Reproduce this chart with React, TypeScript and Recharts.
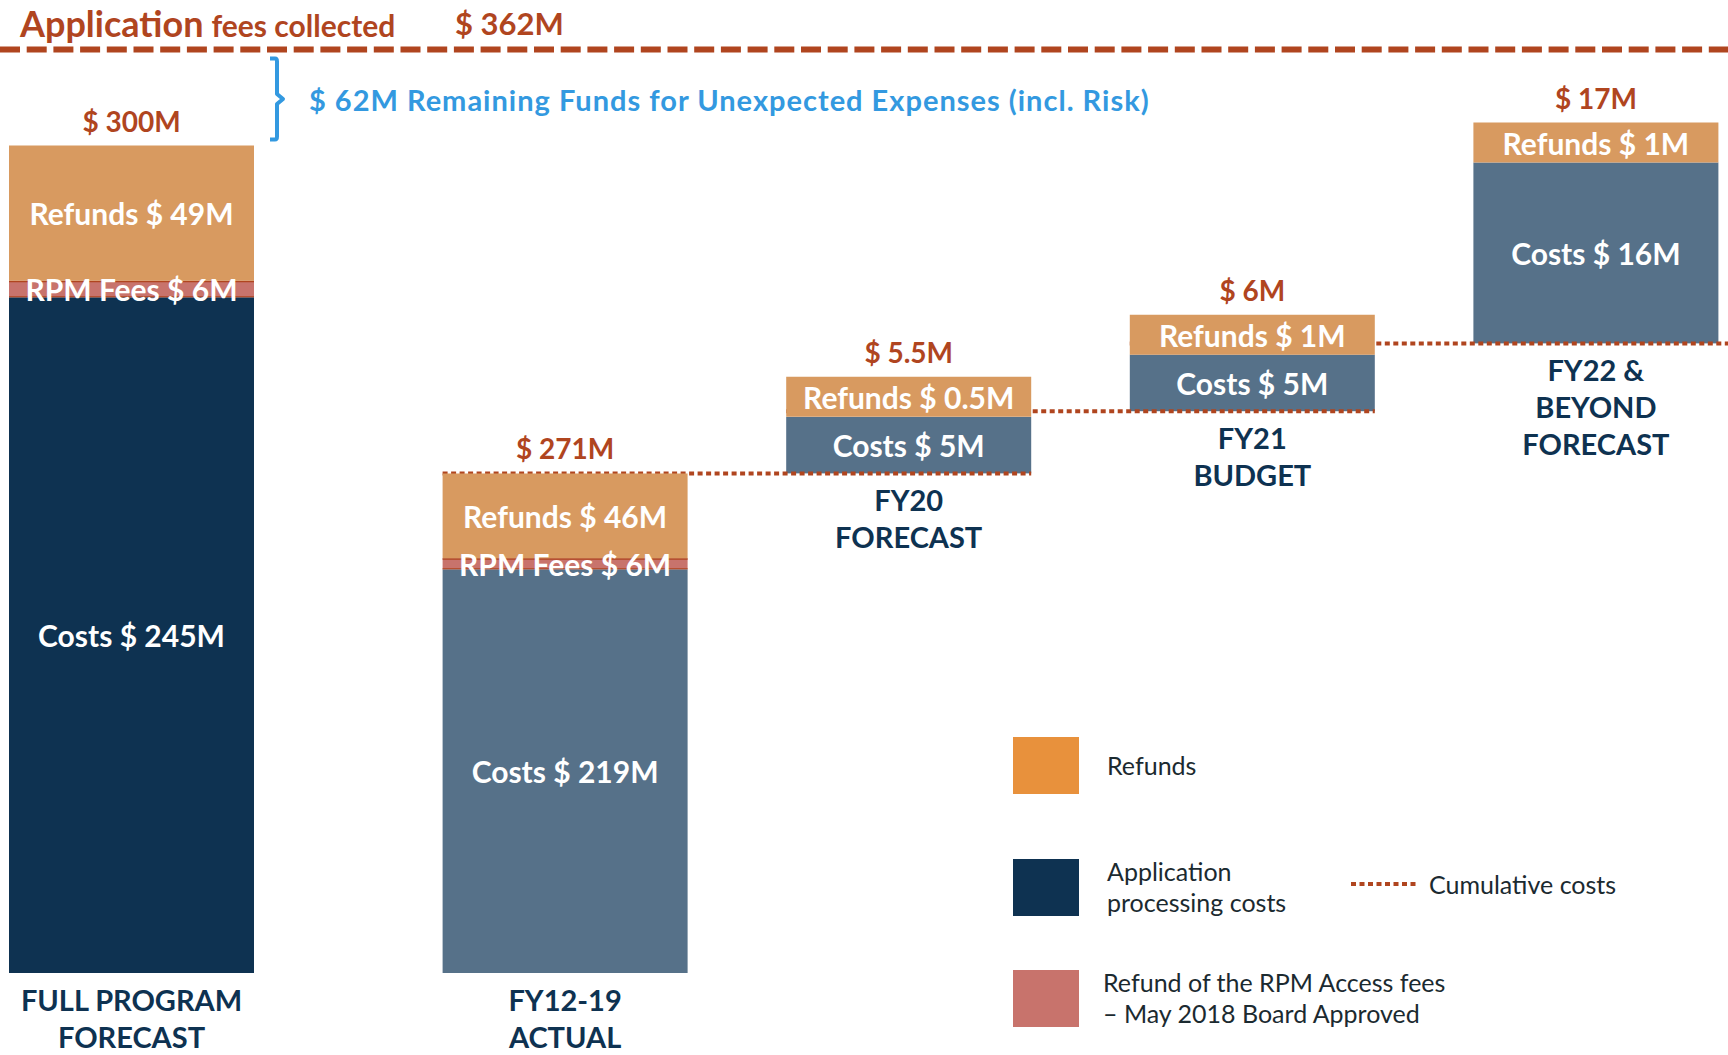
import { ComposedChart, Bar, XAxis, YAxis, ReferenceLine, ReferenceArea, LabelList } from "recharts"

// ---- data ----
const CATEGORIES = [
  ["FULL PROGRAM", "FORECAST"],
  ["FY12-19", "ACTUAL"],
  ["FY20", "FORECAST"],
  ["FY21", "BUDGET"],
  ["FY22 &", "BEYOND", "FORECAST"],
]
const COSTS = [245, 219, 5, 5, 16]
const RPM_FEES: (number | null)[] = [6, 6, null, null, null]
const REFUNDS = [49, 46, 0.5, 1, 1]
const FEES_COLLECTED = 362

const LEGEND_ITEMS = [
  { color: "#E8913C", lines: ["Refunds"] },
  { color: "#0E3251", lines: ["Application", "processing costs"] },
  { color: "#C8736C", lines: ["Refund of the RPM Access fees", "– May 2018 Board Approved"] },
]

// ---- derived ----
const TOTALS = COSTS.map((c, i) => c + (RPM_FEES[i] ?? 0) + REFUNDS[i])
const FULL_TOTAL = TOTALS[0]
const ACTUAL_TOTAL = TOTALS[1]
const BASES: number[] = []
TOTALS.forEach((_, i) => {
  BASES[i] = i <= 1 ? 0 : BASES[i - 1] + TOTALS[i - 1]
})

const money = (v: number) => `$ ${v}M`

const rows = CATEGORIES.map((lines, i) => {
  const full = i === 0
  return {
    name: lines.join(" "),
    fullCosts: full ? COSTS[i] : null,
    fullRpm: full ? RPM_FEES[i] : null,
    fullRefunds: full ? REFUNDS[i] : null,
    fullTotal: full ? money(TOTALS[i]) : null,
    fullCategory: full ? lines.join("|") : null,
    base: full ? null : BASES[i],
    costs: full ? null : COSTS[i],
    rpm: full ? null : RPM_FEES[i],
    refunds: full ? null : REFUNDS[i],
    stepTotal: full ? null : money(TOTALS[i]),
    stepCategory: full ? null : lines.join("|"),
    cumulative: i >= 2 ? BASES[i] : null,
  }
})

// ---- look ----
const FONT = "Lato, 'Noto Sans', sans-serif"
const RUST = "#B0451F"
const BLUE = "#3399E0"
const NAVY = "#0E3251"
const SLATE = "#567189"
const TAN = "#D89A60"
const ROSE = "#C8736C"
const TEXT = "#1B2A30"

const CHART_W = 1728
const CHART_H = 1055
const BAR_SIZE = 245
const FULL_X_PADDING = { left: -52, right: -52 }
const STEP_X_PADDING = { left: 50, right: -40 }
const STEP_BAND = (CHART_W - STEP_X_PADDING.left - STEP_X_PADDING.right) / CATEGORIES.length

// axis with breaks: each knot is [value, share of plot height]
type Knot = [number, number]
const FULL_AXIS_BREAKS: Knot[] = [[0, 0], [FULL_TOTAL, 0.896], [FEES_COLLECTED, 1]]
const STEP_AXIS_BREAKS: Knot[] = [[0, 0], [ACTUAL_TOTAL, 0.541], [FULL_TOTAL, 0.896], [FEES_COLLECTED, 1]]

function brokenScale(knots: Knot[]): any {
  let domain = [knots[0][0], knots[knots.length - 1][0]]
  let range = [0, 1]
  const share = (v: number) => {
    for (let i = 1; i < knots.length; i++) {
      const [v0, s0] = knots[i - 1]
      const [v1, s1] = knots[i]
      if (v <= v1 || i === knots.length - 1) return s0 + ((v - v0) / (v1 - v0)) * (s1 - s0)
    }
    return 0
  }
  const scale: any = (v: number) => range[0] + (range[1] - range[0]) * share(v)
  scale.domain = (d?: number[]) => {
    if (d === undefined) return [...domain]
    domain = [...d]
    return scale
  }
  scale.range = (r?: number[]) => {
    if (r === undefined) return [...range]
    range = [...r]
    return scale
  }
  scale.copy = () => brokenScale(knots).domain(domain).range(range)
  scale.ticks = () => knots.map((k) => k[0])
  scale.tickFormat = () => (v: number) => String(v)
  scale.nice = () => scale
  scale.clamp = () => scale
  scale.invert = (px: number) => {
    const s = (px - range[0]) / (range[1] - range[0])
    for (let i = 1; i < knots.length; i++) {
      const [v0, s0] = knots[i - 1]
      const [v1, s1] = knots[i]
      if (s <= s1 || i === knots.length - 1) return v0 + ((s - s0) / (s1 - s0)) * (v1 - v0)
    }
    return 0
  }
  return scale
}

const fullScale = brokenScale(FULL_AXIS_BREAKS)
const stepScale = brokenScale(STEP_AXIS_BREAKS)

function box(props: any) {
  const vb = props.viewBox ?? props
  return { x: Number(vb.x), y: Number(vb.y), width: Number(vb.width), height: Number(vb.height) }
}

const segmentLabel = (prefix: string) => (props: any) => {
  if (props.value == null) return null
  const { x, y, width, height } = box(props)
  return (
    <text x={x + width / 2} y={y + height / 2} textAnchor="middle" dominantBaseline="central"
      fill="#fff" fontFamily={FONT} fontWeight={700} fontSize={30}>
      {`${prefix} ${money(props.value)}`}
    </text>
  )
}

const totalLabel = (props: any) => {
  if (props.value == null) return null
  const { x, y, width } = box(props)
  return (
    <text x={x + width / 2} y={y - 25} textAnchor="middle" dominantBaseline="central"
      fill={RUST} fontFamily={FONT} fontWeight={700} fontSize={28}>
      {props.value}
    </text>
  )
}

const categoryLabel = (props: any) => {
  if (props.value == null) return null
  const { x, y, width, height } = box(props)
  const lines = String(props.value).split("|")
  return (
    <text textAnchor="middle" fill={NAVY} fontFamily={FONT} fontWeight={700} fontSize={29}>
      {lines.map((l, i) => (
        <tspan key={l} x={x + width / 2} y={y + height + 26 + i * 37} dominantBaseline="central">{l}</tspan>
      ))}
    </text>
  )
}

// pink RPM band with its thin darker edges
const renderRpm = (p: any) => {
  const { x, y, width, height } = p
  if (!(height > 0)) return <g />
  return (
    <g>
      <rect x={x} y={y} width={width} height={height} fill={ROSE} />
      <line x1={x} x2={x + width} y1={y + 0.75} y2={y + 0.75} stroke={RUST} strokeWidth={1.5} />
      <line x1={x} x2={x + width} y1={y + height - 0.5} y2={y + height - 0.5} stroke={RUST} strokeWidth={1} />
    </g>
  )
}

// costs block of a forecast step, with the cumulative-costs dotted line along its base
const renderStepCosts = (p: any) => {
  const { x, y, width, height, payload, index } = p
  const level = payload?.cumulative
  const last = index === CATEGORIES.length - 1
  const base = y + height
  return (
    <g>
      {height > 0 && <rect x={x} y={y} width={width} height={height} fill={SLATE} />}
      {level != null && (
        <line x1={x - STEP_BAND} x2={last ? CHART_W : x + width} y1={base} y2={base}
          stroke={RUST} strokeWidth={4} strokeDasharray="5 3.5" />
      )}
    </g>
  )
}

const renderFeesHeader = (props: any) => {
  const { y } = box(props)
  return (
    <g fontFamily={FONT} fontWeight={700} fill={RUST}>
      <text x={20} y={y - 12.5}>
        <tspan fontSize={36}>Application</tspan>
        <tspan fontSize={30} dx={8}>fees collected</tspan>
      </text>
      <text x={455} y={y - 14.5} fontSize={31}>{money(FEES_COLLECTED)}</text>
    </g>
  )
}

const renderBrace = (props: any) => {
  const { y, height } = props
  const top = y + 9
  const bottom = y + height - 6
  const mid = (top + bottom) / 2
  const bx = 277
  return (
    <g>
      <path
        d={`M ${bx - 7} ${top} H ${bx - 2} Q ${bx} ${top} ${bx} ${top + 3} V ${mid - 5} L ${bx + 6} ${mid} L ${bx} ${mid + 5} V ${bottom - 3} Q ${bx} ${bottom} ${bx - 2} ${bottom} H ${bx - 7}`}
        fill="none" stroke={BLUE} strokeWidth={4} strokeLinejoin="round"
      />
      <text x={309} y={mid} dominantBaseline="central" fill={BLUE} fontFamily={FONT} fontWeight={700}
        fontSize={29} letterSpacing={1}>
        {`${money(FEES_COLLECTED - FULL_TOTAL)} Remaining Funds for Unexpected Expenses (incl. Risk)`}
      </text>
    </g>
  )
}

function ChartLegend() {
  return (
    <div style={{ position: "absolute", left: 1013, top: 737, fontFamily: FONT, fontSize: 25, color: TEXT }}>
      {LEGEND_ITEMS.map((item, i) => (
        <div key={item.lines[0]} style={{ position: "absolute", left: 0, top: [0, 119, 230][i], display: "flex", alignItems: "center", width: 420 }}>
          <span style={{ width: 66, height: 57, background: item.color, flexShrink: 0 }} />
          <span style={{ marginLeft: i === 2 ? 24 : 28, lineHeight: "31px", whiteSpace: "nowrap" }}>
            {item.lines.map((l) => <div key={l}>{l}</div>)}
          </span>
        </div>
      ))}
      <div style={{ position: "absolute", left: 338, top: 130, display: "flex", alignItems: "center", height: 34, whiteSpace: "nowrap" }}>
        <svg width={66} height={6}>
          <line x1={0} x2={66} y1={3} y2={3} stroke={RUST} strokeWidth={4} strokeDasharray="5 3.5" />
        </svg>
        <span style={{ marginLeft: 12 }}>Cumulative costs</span>
      </div>
    </div>
  )
}

export default function App() {
  return (
    <div style={{ position: "relative", width: CHART_W, height: CHART_H, overflow: "hidden", background: "#fff" }}>
      <style>{"body{margin:0}"}</style>
      <ComposedChart width={CHART_W} height={CHART_H} data={rows} margin={{ top: 49.5, right: 0, bottom: 82, left: 0 }}>
        <XAxis xAxisId="full" dataKey="name" hide padding={FULL_X_PADDING} />
        <XAxis xAxisId="steps" dataKey="name" hide padding={STEP_X_PADDING} />
        <YAxis yAxisId="full" type="number" hide domain={[0, FEES_COLLECTED]} scale={fullScale} />
        <YAxis yAxisId="steps" type="number" hide domain={[0, FEES_COLLECTED]} scale={stepScale} />

        <ReferenceArea xAxisId="full" yAxisId="steps" y1={FULL_TOTAL} y2={FEES_COLLECTED} shape={renderBrace} ifOverflow="visible" />
        <ReferenceLine xAxisId="full" yAxisId="steps" y={FEES_COLLECTED} stroke={RUST} strokeWidth={6}
          strokeDasharray="20 6.7" label={{ content: renderFeesHeader }} />

        <Bar xAxisId="full" yAxisId="full" dataKey="fullCosts" stackId="full" fill={NAVY} barSize={BAR_SIZE} isAnimationActive={false}>
          <LabelList dataKey="fullCosts" content={segmentLabel("Costs")} />
          <LabelList dataKey="fullCategory" content={categoryLabel} />
        </Bar>
        <Bar xAxisId="full" yAxisId="full" dataKey="fullRpm" stackId="full" fill={ROSE} barSize={BAR_SIZE}
          shape={renderRpm} isAnimationActive={false}>
          <LabelList dataKey="fullRpm" content={segmentLabel("RPM Fees")} />
        </Bar>
        <Bar xAxisId="full" yAxisId="full" dataKey="fullRefunds" stackId="full" fill={TAN} barSize={BAR_SIZE} isAnimationActive={false}>
          <LabelList dataKey="fullRefunds" content={segmentLabel("Refunds")} />
          <LabelList dataKey="fullTotal" content={totalLabel} />
        </Bar>

        <Bar xAxisId="steps" yAxisId="steps" dataKey="base" stackId="steps" fill="none" barSize={BAR_SIZE} isAnimationActive={false} />
        <Bar xAxisId="steps" yAxisId="steps" dataKey="costs" stackId="steps" fill={SLATE} barSize={BAR_SIZE}
          shape={renderStepCosts} isAnimationActive={false}>
          <LabelList dataKey="costs" content={segmentLabel("Costs")} />
          <LabelList dataKey="stepCategory" content={categoryLabel} />
        </Bar>
        <Bar xAxisId="steps" yAxisId="steps" dataKey="rpm" stackId="steps" fill={ROSE} barSize={BAR_SIZE}
          shape={renderRpm} isAnimationActive={false}>
          <LabelList dataKey="rpm" content={segmentLabel("RPM Fees")} />
        </Bar>
        <Bar xAxisId="steps" yAxisId="steps" dataKey="refunds" stackId="steps" fill={TAN} barSize={BAR_SIZE}
          minPointSize={(_v: any, i: number) => (rows[i]?.refunds ? 40 : 0)} isAnimationActive={false}>
          <LabelList dataKey="refunds" content={segmentLabel("Refunds")} />
          <LabelList dataKey="stepTotal" content={totalLabel} />
        </Bar>
      </ComposedChart>
      <ChartLegend />
    </div>
  )
}
